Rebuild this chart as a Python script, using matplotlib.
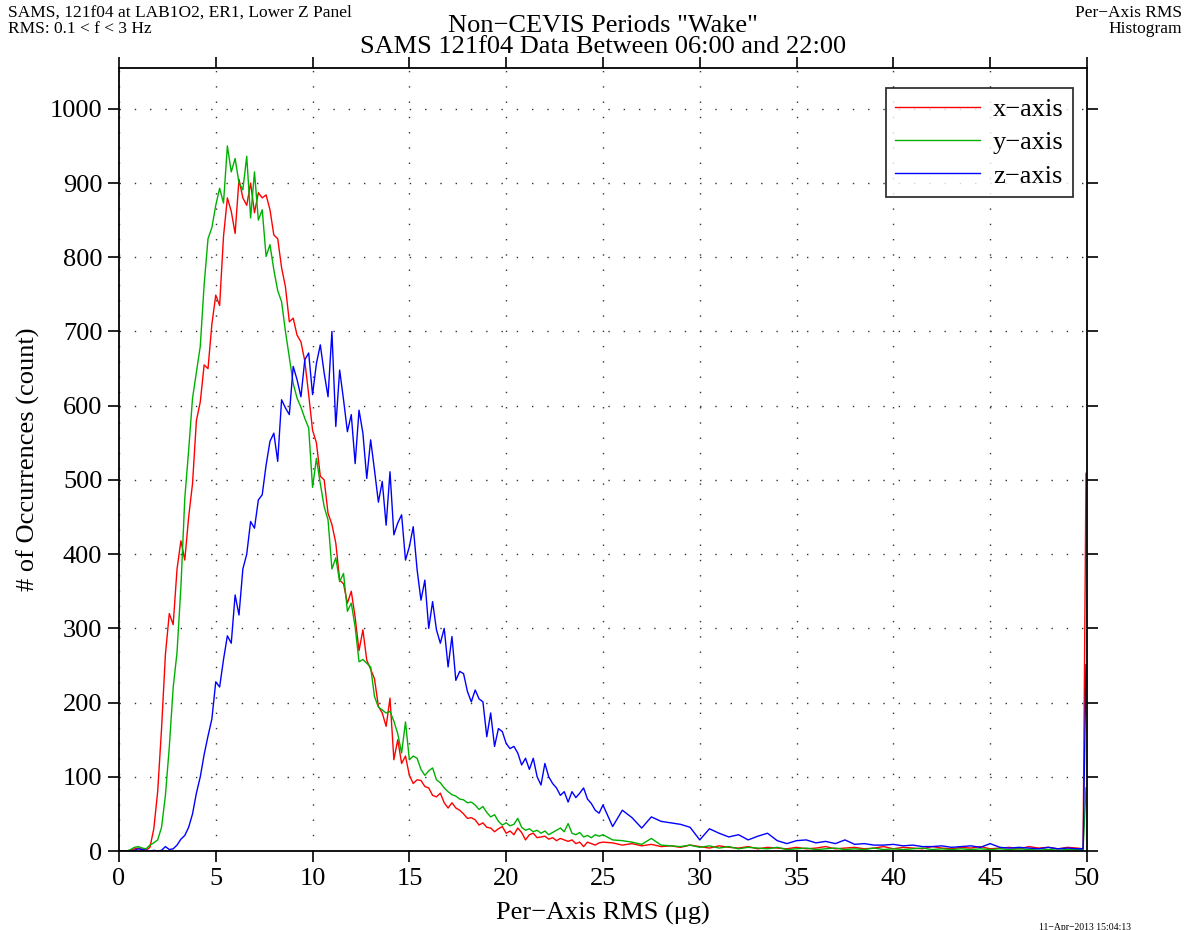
"""
Per-axis RMS histogram, SAMS 121f04 (Non-CEVIS "Wake" periods).
"""

import numpy as np
import matplotlib
matplotlib.use("Agg")
import matplotlib.pyplot as plt

plt.rcParams["font.family"] = ["Liberation Serif", "DejaVu Serif"]

# ── Data (counts) ────────────────────────────────────────────────────────────
# bins: 0.2 ug steps up to 24.8, 0.5 ug steps up to 49.5, then the last bins
rms_bins = np.concatenate([np.round(np.arange(0, 25, 0.2), 2),
                           np.arange(25, 50, 0.5),
                           [49.8, 49.95]])

x_counts = [
    0, 0, 0, 1, 3, 4, 2, 1, 5, 30,
    80, 165, 265, 320, 305, 380, 418, 392, 450, 495,
    580, 605, 655, 650, 710, 749, 735, 828, 880, 862,
    832, 905, 880, 870, 900, 860, 887, 880, 884, 864,
    830, 825, 786, 760, 713, 718, 695, 686, 660, 615,
    567, 550, 505, 500, 455, 440, 415, 365, 360, 334,
    350, 315, 270, 298, 257, 245, 232, 195, 186, 168,
    206, 123, 150, 118, 128, 102, 91, 96, 95, 87,
    85, 75, 73, 78, 65, 58, 65, 58, 55, 50,
    44, 45, 42, 35, 38, 32, 31, 26, 30, 33,
    24, 27, 22, 31, 25, 15, 22, 24, 18, 19,
    20, 16, 18, 14, 17, 15, 13, 15, 10, 12,
    6, 12, 10, 8, 11,
    12, 11, 8, 10, 7, 9, 6, 7, 5, 8,
    6, 4, 7, 5, 4, 6, 3, 5, 4, 3,
    5, 3, 4, 6, 3, 4, 5, 3, 4, 6,
    3, 5, 4, 3, 6, 4, 3, 5, 4, 6,
    3, 4, 5, 3, 6, 4, 5, 3, 5, 4,
    3, 509,
]

y_counts = [
    0, 0, 0, 2, 5, 6, 4, 3, 8, 11,
    15, 32, 75, 140, 220, 268, 356, 475, 540, 610,
    645, 680, 763, 825, 840, 870, 893, 873, 950, 915,
    933, 900, 891, 936, 853, 915, 850, 864, 801, 817,
    783, 755, 740, 700, 665, 630, 610, 598, 583, 570,
    490, 529, 495, 464, 446, 380, 395, 363, 374, 323,
    334, 302, 255, 258, 253, 248, 208, 194, 190, 186,
    188, 175, 158, 132, 174, 123, 128, 125, 110, 102,
    108, 112, 96, 92, 85, 80, 76, 74, 70, 69,
    65, 66, 62, 56, 60, 52, 46, 49, 40, 35,
    38, 34, 36, 44, 32, 28, 30, 26, 28, 24,
    27, 22, 25, 28, 31, 26, 37, 24, 22, 25,
    19, 21, 18, 22, 20,
    22, 15, 14, 12, 9, 17, 8, 7, 6, 8,
    5, 7, 4, 6, 3, 5, 4, 3, 5, 2,
    3, 4, 2, 3, 4, 2, 3, 2, 4, 2,
    3, 2, 3, 4, 2, 3, 2, 3, 2, 3,
    2, 3, 2, 3, 2, 3, 2, 3, 2, 2,
    2, 85,
]

z_counts = [
    0, 0, 0, 0, 1, 3, 2, 1, 0, 1,
    0, 1, 6, 2, 3, 8, 16, 21, 32, 50,
    78, 100, 130, 155, 178, 228, 221, 258, 290, 280,
    345, 318, 380, 400, 444, 435, 473, 480, 520, 552,
    563, 525, 608, 597, 588, 653, 635, 612, 662, 671,
    615, 657, 682, 644, 612, 700, 572, 648, 608, 565,
    588, 522, 594, 563, 502, 554, 513, 470, 498, 439,
    511, 426, 442, 453, 392, 410, 437, 379, 338, 365,
    300, 336, 298, 280, 300, 248, 289, 230, 242, 239,
    215, 201, 217, 205, 201, 154, 186, 141, 165, 161,
    145, 138, 141, 132, 116, 125, 110, 125, 100, 89,
    118, 100, 91, 85, 75, 80, 66, 80, 72, 78,
    85, 70, 64, 55, 51,
    62, 33, 55, 45, 31, 46, 40, 38, 36, 32,
    15, 30, 24, 19, 22, 15, 20, 24, 14, 10,
    14, 15, 11, 13, 10, 15, 9, 10, 8, 8,
    9, 7, 8, 6, 6, 7, 5, 6, 7, 5,
    10, 5, 4, 5, 4, 3, 5, 3, 4, 3,
    3, 251,
]

series = [("x\u2212axis", x_counts, "#ff0000"),
          ("y\u2212axis", y_counts, "#00b000"),
          ("z\u2212axis", z_counts, "#0000ff")]

# ── Figure ───────────────────────────────────────────────────────────────────
fig = plt.figure(figsize=(11.86, 9.3), dpi=100)
ax = fig.add_axes([0.1003, 0.0849, 0.8162, 0.842])

for label, counts, color in series:
    ax.plot(rms_bins, counts, color=color, lw=1.0, label=label)

ax.set_xlim(0, 50)
ax.set_ylim(0, 1055)
ax.set_xticks(np.arange(0, 51, 5))
ax.set_yticks(np.arange(0, 1001, 100))
ax.tick_params(which="both", direction="out", top=True, right=True,
               labelsize=19, length=8, width=1.2, pad=4)
for sp in ax.spines.values():
    sp.set_linewidth(1.3)

ax.grid(True, color="0.2", linestyle=(0, (1, 10)), linewidth=1.0)

ax.set_xlabel("Per\u2212Axis RMS (\u03bcg)", fontsize=19, labelpad=9)
ax.set_ylabel("# of Occurrences (count)", fontsize=19, labelpad=7)

leg = ax.legend(loc="upper right", fontsize=19, frameon=True, fancybox=False,
                edgecolor="black", handlelength=3.2, handletextpad=0.5,
                borderpad=0.35, labelspacing=0.37, borderaxespad=0,
                bbox_to_anchor=(0.9855, 0.974))
leg.get_frame().set_linewidth(1.3)

# ── Header / footer text ─────────────────────────────────────────────────────
fig.text(0.5085, 1 - 32 / 930, "Non\u2212CEVIS Periods \"Wake\"",
         ha="center", va="baseline", fontsize=19)
fig.text(0.5085, 1 - 53 / 930, "SAMS 121f04 Data Between 06:00 and 22:00",
         ha="center", va="baseline", fontsize=19)
fig.text(0.007, 1 - 17 / 930, "SAMS, 121f04 at LAB1O2, ER1, Lower Z Panel",
         ha="left", va="baseline", fontsize=12.5)
fig.text(0.007, 1 - 33 / 930, "RMS: 0.1 < f < 3 Hz",
         ha="left", va="baseline", fontsize=12.5)
fig.text(0.997, 1 - 17 / 930, "Per\u2212Axis RMS",
         ha="right", va="baseline", fontsize=12.5)
fig.text(0.997, 1 - 33 / 930, "Histogram",
         ha="right", va="baseline", fontsize=12.5)
fig.text(0.915, -0.002, "11\u2212Apr\u22122013 15:04:13", ha="center", va="bottom",
         fontsize=7)

fig.savefig("out.png", dpi=100)
